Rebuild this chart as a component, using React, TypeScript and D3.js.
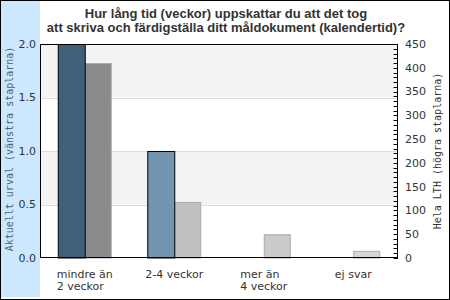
import React from "react";
import * as d3 from "d3";

const categories = [["mindre än", "2 veckor"], ["2-4 veckor"], ["mer än", "4 veckor"], ["ej svar"]];
const leftValues = [2, 1, 0, 0];
const rightValues = [410, 118, 50, 15];
const leftColors = ["#3f5f7b", "#7194b0", "#7194b0", "#7194b0"];
const rightColors = ["#8a8a8a", "#c0c0c0", "#cacaca", "#d6d6d6"];
const leftTicks = [0, 0.5, 1.0, 1.5, 2.0];
const rightTicks = [0, 50, 100, 150, 200, 250, 300, 350, 400, 450];
const titleLines = [
  "Hur lång tid (veckor) uppskattar du att det tog",
  "att skriva och färdigställa ditt måldokument (kalendertid)?",
];
const leftTitle = "Aktuellt urval (vänstra staplarna)";
const rightTitle = "Hela LTH (högra staplarna)";

const W = 450, H = 300;
const L = 40, R = 398, T = 44, B = 258;
const labelFont = "11px 'DejaVu Sans'";

function measure(s: string): number {
  const c = document.createElement("canvas").getContext("2d")!;
  c.font = labelFont;
  return c.measureText(s).width;
}

export default function App() {
  const x = d3.scaleBand<number>().domain(d3.range(categories.length)).range([L, R]).paddingInner(0).paddingOuter(0);
  const yL = d3.scaleLinear().domain([0, 2]).range([B, T]);
  const yR = d3.scaleLinear().domain([0, 450]).range([B, T]);
  const bw = 27;
  const minor = d3.range(0, 451, 10);
  return (
    <svg width={W} height={H} style={{ position: "absolute", left: 0, top: 0 }}>
      <rect x={0} y={0} width={W} height={H} fill="#fff" />
      <rect x={1} y={0} width={39} height={297} fill="#cce8ff" />
      {[[1.5, 2], [0.5, 1]].map(([a, b], i) => (
        <rect key={i} x={L} y={yL(b)} width={R - L} height={yL(a) - yL(b)} fill="#f3f3f3" />
      ))}
      {[0.5, 1, 1.5].map((v) => (
        <line key={v} x1={L} x2={R} y1={Math.round(yL(v)) + 0.5} y2={Math.round(yL(v)) + 0.5} stroke="#dcdcdc" />
      ))}
      {categories.map((c, i) => {
        const cx = x(i)! + x.bandwidth() / 2;
        return (
          <g key={i}>
            {rightValues[i] > 0 && (
              <rect x={cx + 0.5} y={yR(rightValues[i]) + 0.5} width={bw - 1} height={B - yR(rightValues[i]) - 0.5}
                fill={rightColors[i]} stroke="#aaaaaa" strokeWidth={1} />
            )}
            {leftValues[i] > 0 && (
              <rect x={cx - bw + 0.5} y={yL(leftValues[i]) + 0.5} width={bw} height={B - yL(leftValues[i]) - 0.5}
                fill={leftColors[i]} stroke="#000" strokeWidth={1} />
            )}
          </g>
        );
      })}
      <rect x={L + 0.5} y={T + 0.5} width={R - L - 1} height={B - T - 1} fill="none" stroke="#000" />
      {minor.map((v) => (
        <line key={v} x1={R - 4.5} x2={R} y1={Math.round(yR(v)) + 0.5} y2={Math.round(yR(v)) + 0.5} stroke="#000" />
      ))}
      {leftTicks.map((v) => (
        <text key={v} x={36} y={yL(v)} dy="0.35em" textAnchor="end" fontFamily="DejaVu Sans" fontSize={11} fill="#333">
          {v.toFixed(1)}
        </text>
      ))}
      {rightTicks.map((v) => (
        <text key={v} x={405} y={yR(v)} dy="0.35em" textAnchor="start" fontFamily="DejaVu Sans" fontSize={11} fill="#333">
          {v}
        </text>
      ))}
      {categories.map((lines, i) => {
        const cx = x(i)! + x.bandwidth() / 2;
        const mw = Math.max(...lines.map(measure));
        return (
          <text key={i} fontFamily="DejaVu Sans" fontSize={11} fill="#333">
            {lines.map((s, j) => (
              <tspan key={j} x={cx - mw / 2} y={278 + j * 12}>{s}</tspan>
            ))}
          </text>
        );
      })}
      <text transform={`translate(13,${(T + B) / 2 - 2}) rotate(-90)`} textAnchor="middle" fontFamily="DejaVu Sans Mono" fontSize={10} fill="#4f6070">
        {leftTitle}
      </text>
      <text transform={`translate(441,${(T + B) / 2}) rotate(-90)`} textAnchor="middle" fontFamily="DejaVu Sans Mono" fontSize={10} fill="#333">
        {rightTitle}
      </text>
      {titleLines.map((s, i) => (
        <text key={i} x={226} y={18 + i * 13.5} textAnchor="middle" fontFamily="Liberation Sans" fontWeight="bold" fontSize={13} fill="#333">
          {s}
        </text>
      ))}
      <rect x={0.5} y={0.5} width={W - 1} height={H - 1} fill="none" stroke="#000" />
    </svg>
  );
}
